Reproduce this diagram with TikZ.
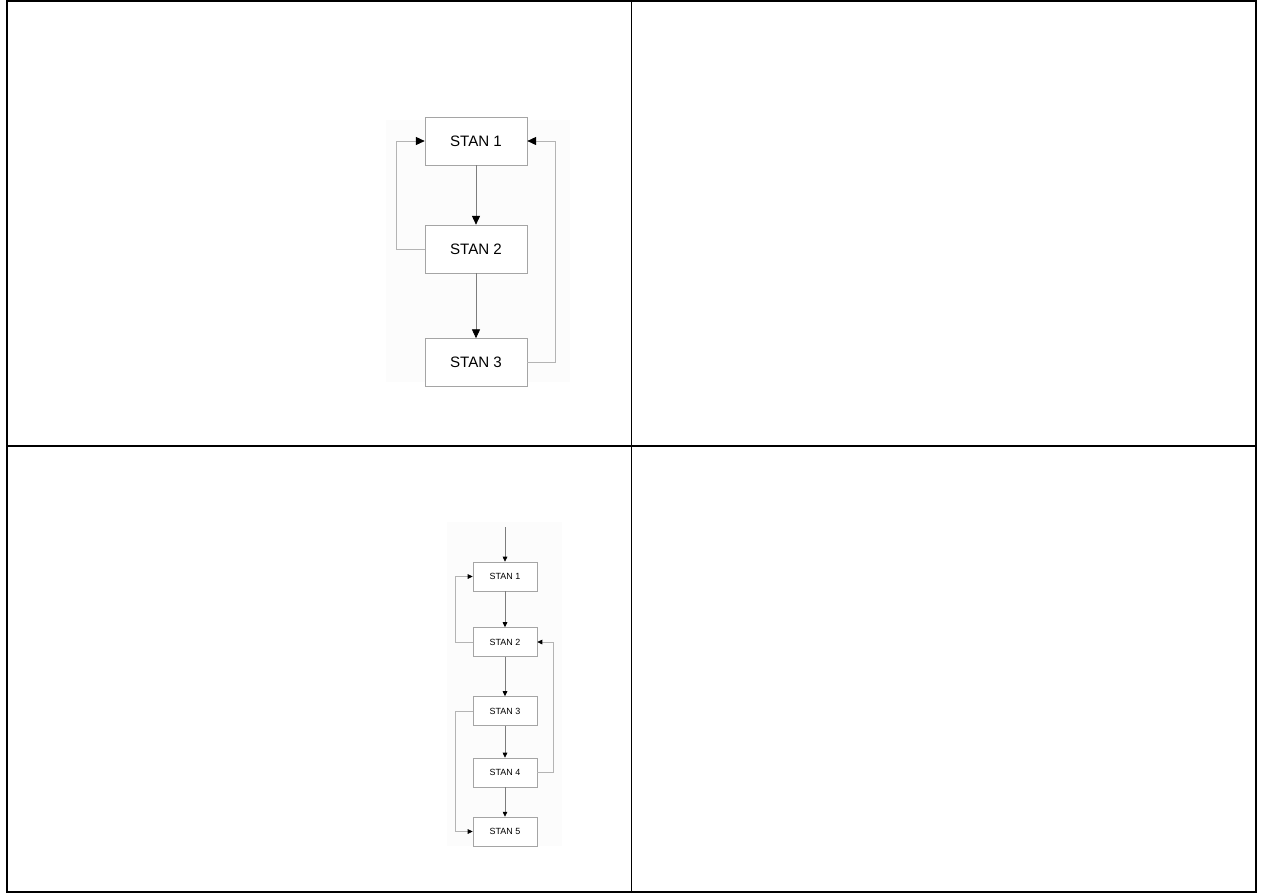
\documentclass[tikz,border=0pt]{standalone}
\usepackage{fontspec}
\setmainfont{Liberation Sans}
\usetikzlibrary{arrows.meta,positioning}
\definecolor{rule}{RGB}{0,0,0}
\definecolor{edge}{RGB}{165,165,165}
\definecolor{wire}{RGB}{125,125,125}
\definecolor{lightwire}{RGB}{180,180,180}
\definecolor{paper}{RGB}{252,252,252}
\tikzset{
  cell/.style={draw=rule,line width=0.7pt},
  big/.style={draw=edge,fill=white,inner sep=0pt,minimum width=2.04cm,minimum height=0.96cm,font=\fontsize{8.6}{10}\selectfont},
  small/.style={draw=edge,fill=white,inner sep=0pt,minimum width=1.28cm,minimum height=0.58cm,font=\fontsize{5.1}{6}\selectfont},
  flow/.style={-{Triangle[length=5pt,width=4.6pt,color=black]},draw=#1,line width=0.4pt},
  flow/.default=wire,
  sflow/.style={-{Triangle[length=2.8pt,width=2.6pt,color=black]},draw=#1,line width=0.35pt},
  sflow/.default=wire,
}
\begin{document}
\begin{tikzpicture}[x=0.02cm,y=-0.02cm]
  \useasboundingbox (0,0) rectangle (1263,893);
  % table
  \draw[cell] (7,1) rectangle (1256,892);
  \draw[cell] (631.5,1) -- (631.5,892) (7,446) -- (1256,446);
  % faint sheets behind the diagrams
  \fill[paper] (386,120) rectangle (570,382);
  \fill[paper] (447,522) rectangle (562,846);
  % upper cell
  \node[big] (s1) at (476,141) {STAN 1};
  \node[big] (s2) at (476,249) {STAN 2};
  \node[big] (s3) at (476,362.5) {STAN 3};
  \draw[flow] (s1) -- (s2);
  \draw[flow] (s2) -- (s3);
  \draw[flow=lightwire] (s2.west) -- ++(-28,0) |- (s1.west);
  \draw[flow=lightwire] (s3.east) -- ++(28,0) |- (s1.east);
  % lower cell
  \coordinate (in) at (505,527);
  \node[small] (t1) at (505,576.5) {STAN 1};
  \node[small] (t2) at (505,642) {STAN 2};
  \node[small] (t3) at (505,711) {STAN 3};
  \node[small] (t4) at (505,772.5) {STAN 4};
  \node[small] (t5) at (505,831.5) {STAN 5};
  \draw[sflow] (in) -- (t1);
  \foreach \a/\b in {t1/t2,t2/t3,t3/t4,t4/t5}
    \draw[sflow] (\a) -- (\b);
  \draw[sflow=lightwire] (t2.west) -- ++(-17,0) |- (t1.west);
  \draw[sflow=lightwire] (t3.west) -- ++(-17,0) |- (t5.west);
  \draw[sflow=lightwire] (t4.east) -- ++(16,0) |- (t2.east);
\end{tikzpicture}
\end{document}
